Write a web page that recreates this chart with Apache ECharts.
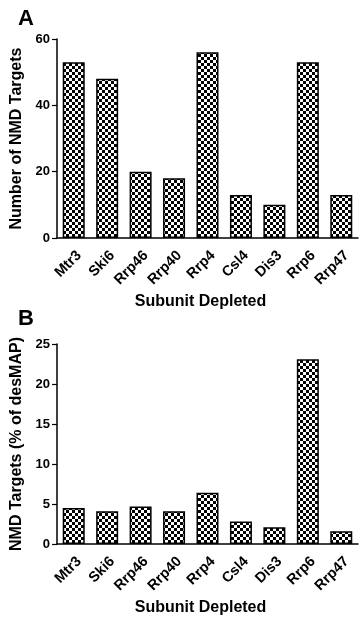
<!DOCTYPE html>
<html><head><meta charset="utf-8">
<script src="https://cdn.jsdelivr.net/npm/echarts@6/dist/echarts.min.js"></script>
<style>html,body{margin:0;padding:0;background:#fff}#c{width:359px;height:617px}</style>
</head><body><div id="c"></div>
<script>
const categories = ['Mtr3','Ski6','Rrp46','Rrp40','Rrp4','Csl4','Dis3','Rrp6','Rrp47'];
const countValues = [53, 48, 20, 18, 56, 13, 10, 53, 13];
const percentValues = [4.5, 4.1, 4.7, 4.1, 6.4, 2.8, 2.1, 23.1, 1.6];
const countTicks = [0, 20, 40, 60];
const percentTicks = [0, 5, 10, 15, 20, 25];

const pc = document.createElement('canvas');
pc.width = 6; pc.height = 6;
const g = pc.getContext('2d');
g.fillStyle = '#fff'; g.fillRect(0,0,6,6);
g.fillStyle = '#000'; g.fillRect(0,0,3,3); g.fillRect(3,3,3,3);
const checker = {image: pc, repeat: 'repeat'};

const font = 'Liberation Sans, Arial, sans-serif';
const chart = echarts.init(document.getElementById('c'), null, {renderer:'canvas'});
function xAx(i){
  return {type:'category', gridIndex:i, data:categories,
    name:'Subunit Depleted', nameLocation:'middle', nameGap:56,
    nameTextStyle:{fontFamily:font, fontWeight:'bold', fontSize:16, color:'#000', padding:[0,14,0,0]},
    axisLine:{lineStyle:{color:'#000', width:1.5}},
    axisTick:{alignWithLabel:true, length:5, lineStyle:{color:'#000', width:1.2}},
    axisLabel:{rotate:45, margin:10, verticalAlign:'top', fontFamily:font, fontWeight:'bold', fontSize:14.5, color:'#000', interval:0}};
}
function yAx(i, name, max, interval){
  return {type:'value', gridIndex:i, min:0, max:max, interval:interval,
    name:name, nameLocation:'middle', nameGap:29,
    nameTextStyle:{fontFamily:font, fontWeight:'bold', fontSize:16, color:'#000'},
    splitLine:{show:false},
    axisLine:{show:true, lineStyle:{color:'#000', width:1.5}},
    axisTick:{show:true, length:5, lineStyle:{color:'#000', width:1.2}},
    axisLabel:{margin:7, fontFamily:font, fontWeight:'bold', fontSize:13, color:'#000'}};
}
chart.setOption({
  animation:false,
  title:[
    {text:'A', left:13, top:3, textStyle:{fontFamily:font, fontWeight:'bold', fontSize:22, color:'#000'}},
    {text:'B', left:13, top:303, textStyle:{fontFamily:font, fontWeight:'bold', fontSize:22, color:'#000'}}
  ],
  grid:[
    {left:57, top:39, width:301, height:199},
    {left:57, top:344, width:301, height:200}
  ],
  xAxis:[xAx(0), xAx(1)],
  yAxis:[yAx(0,'Number of NMD Targets', countTicks[countTicks.length-1], countTicks[1]-countTicks[0]),
         yAx(1,'NMD Targets (% of desMAP)', percentTicks[percentTicks.length-1], percentTicks[1]-percentTicks[0])],
  series:[
    {type:'bar', xAxisIndex:0, yAxisIndex:0, data:countValues, barWidth:22,
     itemStyle:{color:checker, borderColor:'#000', borderWidth:1.5}},
    {type:'bar', xAxisIndex:1, yAxisIndex:1, data:percentValues, barWidth:22,
     itemStyle:{color:checker, borderColor:'#000', borderWidth:1.5}}
  ]
});
</script></body></html>
